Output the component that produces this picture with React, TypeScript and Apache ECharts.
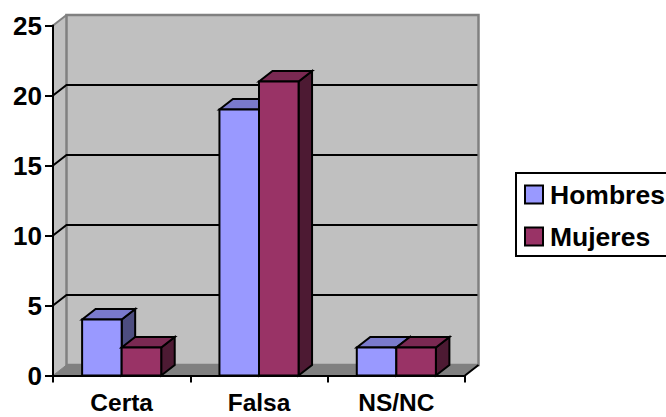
import React, { useEffect, useRef } from "react";
import * as echarts from "echarts";

const categories = ["Certa", "Falsa", "NS/NC"];
const hombres = [4, 19, 2];
const mujeres = [2, 21, 2];
const yTicks = [0, 5, 10, 15, 20, 25];

const FONT = '"Liberation Sans", Arial, sans-serif';
const DEPTH_X = 13.5;
const DEPTH_Y = -10.5;
const BAR_FRACTION = 0.288;

const wallItem = (params: any, api: any) => {
  const cs = params.coordSys;
  const y = api.coord([0, api.value(1)])[1];
  const v = api.value(1);
  const l = cs.x, r = cs.x + cs.width, b = cs.y + cs.height, t = cs.y;
  const children: any[] = [];
  const poly = (pts: number[][], fill: string, stroke: string, lw = 0) => ({
    type: "polygon",
    shape: { points: pts },
    style: { fill, stroke: lw ? stroke : "none", lineWidth: lw },
  });
  if (params.dataIndex === 0) {
    children.push(
      poly([[l, b], [l + DEPTH_X, b + DEPTH_Y], [l + DEPTH_X, t + DEPTH_Y], [l, t]], "#C0C0C0", "#808080", 0),
      poly([[l + DEPTH_X, t + DEPTH_Y], [r + DEPTH_X, t + DEPTH_Y], [r + DEPTH_X, b + DEPTH_Y], [l + DEPTH_X, b + DEPTH_Y]], "#C0C0C0", "#808080", 2.5),
      poly([[l, b], [l + DEPTH_X, b + DEPTH_Y], [r + DEPTH_X, b + DEPTH_Y], [r, b]], "#808080", "#808080", 1),
      { type: "polyline", shape: { points: [[l, t], [l + DEPTH_X, t + DEPTH_Y]] }, style: { fill: "none", stroke: "#808080", lineWidth: 2 } },
      { type: "polyline", shape: { points: [[r, b], [r + DEPTH_X, b + DEPTH_Y]] }, style: { fill: "none", stroke: "#000", lineWidth: 2 } }
    );
  } else if (v < yTicks[yTicks.length - 1]) {
    children.push({
      type: "polyline",
      shape: { points: [[l, y], [l + DEPTH_X, y + DEPTH_Y], [r + DEPTH_X - 1, y + DEPTH_Y]] },
      style: { fill: "none", stroke: "#000", lineWidth: 2 },
    });
  }
  return { type: "group", children };
};

const barItem = (side: number, front: string, top: string, dark: string) => (params: any, api: any) => {
  const val = api.value(1);
  const [cx, yTop] = api.coord([api.value(0), val]);
  const [, yBase] = api.coord([api.value(0), 0]);
  const w = api.size([1, 0])[0] * BAR_FRACTION;
  const x0 = side < 0 ? cx - w : cx;
  const x1 = x0 + w;
  const st = (fill: string) => ({ fill, stroke: "#000", lineWidth: 2, lineJoin: "miter" });
  return {
    type: "group",
    children: [
      { type: "polygon", shape: { points: [[x1, yTop], [x1 + DEPTH_X, yTop + DEPTH_Y], [x1 + DEPTH_X, yBase + DEPTH_Y], [x1, yBase]] }, style: st(dark) },
      { type: "polygon", shape: { points: [[x0, yTop], [x0 + DEPTH_X, yTop + DEPTH_Y], [x1 + DEPTH_X, yTop + DEPTH_Y], [x1, yTop]] }, style: st(top) },
      { type: "polygon", shape: { points: [[x0, yTop], [x1, yTop], [x1, yBase], [x0, yBase]] }, style: st(front) },
    ],
  };
};

export default function App() {
  const ref = useRef<HTMLDivElement>(null);
  useEffect(() => {
    document.body.style.margin = "0";
    const chart = echarts.init(ref.current!, undefined, { renderer: "svg" });
    chart.setOption({
      animation: false,
      backgroundColor: "#fff",
      grid: { left: 53, top: 25.5, width: 412, height: 350 },
      legend: {
        orient: "vertical",
        left: 516,
        top: 173,
        padding: [8, 40, 6, 8],
        borderColor: "#000",
        borderWidth: 2,
        itemWidth: 18,
        itemHeight: 18,
        itemGap: 15,
        icon: "rect",
        selectedMode: false,
        textStyle: { fontFamily: FONT, fontWeight: "bold", fontSize: 26.5, lineHeight: 26, color: "#000", padding: [0, 0, 0, 2] },
        data: [
          { name: "Hombres", icon: "rect", itemStyle: { color: "#9999FF", borderColor: "#000", borderWidth: 2 } },
          { name: "Mujeres", icon: "rect", itemStyle: { color: "#993366", borderColor: "#000", borderWidth: 2 } },
        ],
      },
      xAxis: {
        type: "category",
        data: categories,
        z: 5,
        axisLine: { lineStyle: { color: "#000", width: 2 } },
        axisTick: { show: true, alignWithLabel: false, length: 7, lineStyle: { color: "#000", width: 2 } },
        axisLabel: { color: "#000", fontFamily: FONT, fontWeight: "bold", fontSize: 24.5, lineHeight: 24, margin: 15 },
      },
      yAxis: {
        type: "value",
        min: 0,
        max: 25,
        interval: 5,
        z: 5,
        splitLine: { show: false },
        axisLine: { show: true, lineStyle: { color: "#000", width: 2 } },
        axisTick: { show: true, length: 8, lineStyle: { color: "#000", width: 2 } },
        axisLabel: { color: "#000", fontFamily: FONT, fontWeight: "bold", fontSize: 26, margin: 11 },
      },
      series: [
        {
          name: "Pared",
          type: "custom",
          z: 1,
          silent: true,
          clip: false,
          encode: { x: 0, y: 1 },
          data: yTicks.map((t) => [0, t]),
          renderItem: wallItem,
        },
        {
          name: "Hombres",
          type: "custom",
          z: 2,
          clip: false,
          encode: { x: 0, y: 1 },
          itemStyle: { color: "#9999FF" },
          data: hombres.map((v, i) => [i, v]),
          renderItem: barItem(-1, "#9999FF", "#7A7ACC", "#4D4D80"),
        },
        {
          name: "Mujeres",
          type: "custom",
          z: 3,
          clip: false,
          encode: { x: 0, y: 1 },
          itemStyle: { color: "#993366" },
          data: mujeres.map((v, i) => [i, v]),
          renderItem: barItem(1, "#993366", "#7A2952", "#4D1A33"),
        },
      ],
    });
    return () => chart.dispose();
  }, []);
  return <div ref={ref} style={{ position: "fixed", left: 0, top: 0, width: 666, height: 417 }} />;
}
